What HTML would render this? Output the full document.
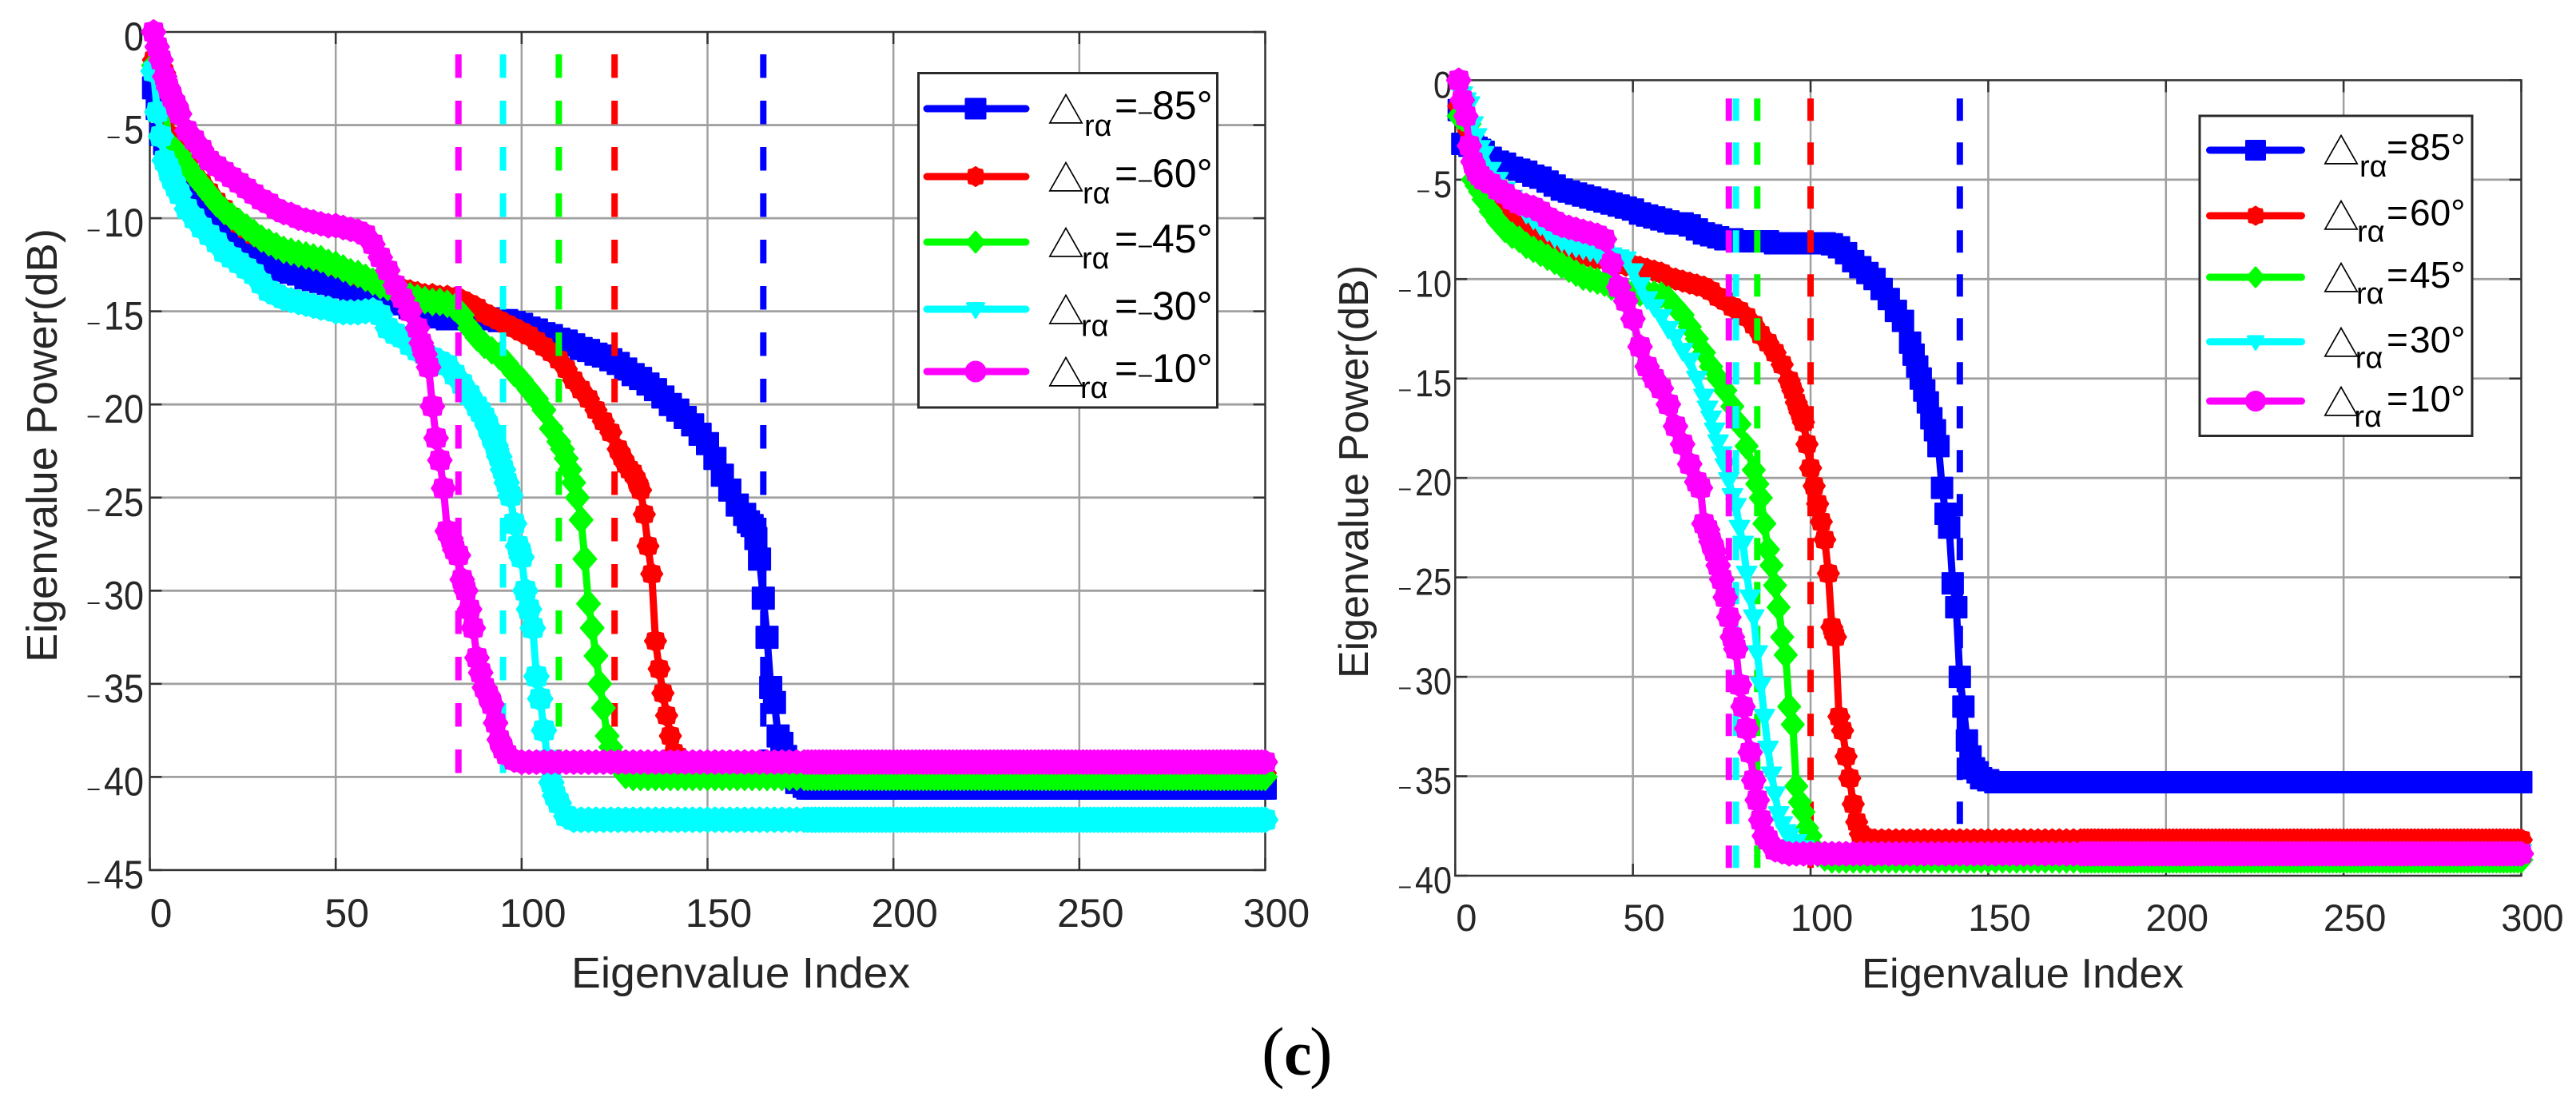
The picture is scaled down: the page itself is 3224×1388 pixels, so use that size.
<!DOCTYPE html>
<html lang="en">
<head>
<meta charset="utf-8">
<title>Eigenvalue Power vs Eigenvalue Index</title>
<style>
html,body{margin:0;padding:0;background:#fff;}
svg{display:block;}
text{font-family:"Liberation Sans",Arial,sans-serif;}
</style>
</head>
<body>
<svg id="figure" xmlns="http://www.w3.org/2000/svg" width="3224" height="1388" viewBox="0 0 3224 1388">
<rect x="0" y="0" width="3224" height="1388" fill="#fff"/>
<g id="panel-left"></g>
<g id="panel-right"></g>
<text x="715" y="1236" font-size="54" fill="#262626" textLength="424" lengthAdjust="spacingAndGlyphs">Eigenvalue Index</text>
<text x="2330" y="1236" font-size="52" fill="#262626" textLength="403" lengthAdjust="spacingAndGlyphs">Eigenvalue Index</text>
<text transform="translate(71,829) rotate(-90)" font-size="54" fill="#262626" textLength="543" lengthAdjust="spacingAndGlyphs">Eigenvalue Power(dB)</text>
<text transform="translate(1712,849) rotate(-90)" font-size="52" fill="#262626" textLength="517" lengthAdjust="spacingAndGlyphs">Eigenvalue Power(dB)</text>
<text y="1345" fill="#000" style="font-family:'Liberation Serif',serif"><tspan x="1579" font-size="86">(</tspan><tspan x="1607" font-size="78" font-weight="bold">c</tspan><tspan x="1639" font-size="86">)</tspan></text>
</svg>
<script>
const eigenIndex=[1,2,3,4,5,6,7,8,
10,12,14,16,18,20,22,24,26,28,
30,32,34,36,38,40,42,44,46,48,
50,52,54,56,58,60,62,64,66,68,
70,72,74,76,78,80,82,84,86,88,
90,92,94,96,98,100,102,104,106,108,
110,112,114,116,118,120,122,124,126,128,
130,132,134,136,138,140,142,144,146,148,
150,152,154,156,158,160,162,164,166,168,
170,172,174,176,
177,178,179,180,181,182,183,184,185,186,187,188,189,190,191,192,193,194,195,196,197,198,199,200,
201,202,203,204,205,206,207,208,209,210,211,212,213,214,215,216,217,218,219,220,221,222,223,224,225,
226,227,228,229,230,231,232,233,234,235,236,237,238,239,240,241,242,243,244,245,246,247,248,249,250,
251,252,253,254,255,256,257,258,259,260,261,262,263,264,265,266,267,268,269,270,271,272,273,274,275,
276,277,278,279,280,281,282,283,284,285,286,287,288,289,290,291,292,293,294,295,296,297,298,299,300];

const xTickLabels=[0,50,100,150,200,250,300];
const yTickLabelsLeft=[0,-5,-10,-15,-20,-25,-30,-35,-40,-45];
const yTickLabelsRight=[0,-5,-10,-15,-20,-25,-30,-35,-40];

const leftLegendLabels=['-85°','-60°','-45°','-30°','-10°'];
const rightLegendLabels=['85°','60°','45°','30°','10°'];

const leftBlue=[-3,-4.1,-5.5,-6,-6.3,-6.6,-6.9,-7.1,
-7.7,-8.2,-8.9,-9.6,-10.2,-10.9,-11.2,-11.5,-11.8,-12.1,
-12.3,-12.5,-12.6,-12.8,-12.9,-13,-13.2,-13.3,-13.4,-13.5,
-13.6,-13.7,-13.8,-13.9,-14,-14.1,-14.2,-14.3,-14.4,-14.6,
-14.8,-14.9,-15.1,-15.2,-15.3,-15.4,-15.4,-15.4,-15.4,-15.4,
-15.4,-15.4,-15.5,-15.5,-15.6,-15.7,-15.9,-16,-16.2,-16.3,
-16.5,-16.6,-16.8,-17,-17.1,-17.3,-17.4,-17.6,-17.8,-18.1,
-18.4,-18.6,-18.9,-19.2,-19.6,-20,-20.3,-20.7,-21.1,-21.6,
-22.1,-22.9,-23.8,-24.6,-25.4,-25.9,-26.5,-28.3,-32.5,-36,
-38.2,-39.6,-40.3,-40.5];
const leftRed=[-1.5,-1.6,-1.8,-2.2,-4.5,-5.6,-6.1,-6.4,
-7,-7.6,-8.1,-8.6,-9.1,-9.5,-9.9,-10.3,-10.6,-10.9,
-11.1,-11.3,-11.5,-11.7,-11.8,-11.9,-12,-12.1,-12.3,-12.4,
-12.6,-12.7,-12.9,-13.1,-13.2,-13.4,-13.5,-13.6,-13.7,-13.8,
-13.9,-14,-14.1,-14.1,-14.2,-14.2,-14.3,-14.4,-14.6,-14.8,
-15.1,-15.3,-15.5,-15.7,-15.9,-16.1,-16.3,-16.6,-16.9,-17.2,
-17.6,-18.1,-18.7,-19.2,-19.7,-20.3,-20.9,-21.5,-22.4,-23.2,
-23.7,-24.6,-27.6,-32.7,-35.5,-37.8,-38.9,-39.6];
const leftGreen=[-1.8,-2,-2.5,-3,-6,-6.2,-6.4,-6.6,
-7.2,-7.7,-8.2,-8.7,-9.2,-9.6,-9.9,-10.2,-10.5,-10.8,
-11.1,-11.3,-11.5,-11.7,-11.8,-11.9,-12,-12.1,-12.2,-12.4,
-12.5,-12.7,-12.9,-13,-13.2,-13.4,-13.6,-13.7,-13.9,-14,
-14.2,-14.3,-14.4,-14.5,-14.5,-14.6,-14.8,-15.2,-15.9,-16.4,
-16.8,-17.1,-17.4,-17.8,-18.3,-18.7,-19.2,-19.7,-20.3,-21.3,
-22,-22.9,-24.2,-26.2,-30.7,-33.5,-36.3,-38.4,-39.4,-39.9];
const leftCyan=[-2.1,-4.3,-5.6,-6.9,-7.3,-7.9,-8.3,-8.7,
-9.5,-10,-10.5,-10.9,-11.3,-11.8,-12.1,-12.4,-12.7,-13,
-13.5,-13.9,-14.1,-14.3,-14.4,-14.5,-14.6,-14.7,-14.8,-14.85,
-15,-15.05,-15.05,-15.05,-15,-14.95,-15.2,-15.9,-16.2,-16.4,
-16.8,-17.1,-17.3,-17.5,-17.7,-17.9,-18.4,-18.9,-19.5,-20.1,
-20.7,-21.7,-22.8,-24.2,-26.4,-28.2,-31,-34.6,-37.5,-40.3,
-41.4,-42.1];
const leftMagenta=[0,-0.8,-1.5,-2.4,-3,-3.5,-3.9,-4.4,
-5.3,-5.8,-6.3,-6.9,-7.2,-7.5,-7.8,-8.1,-8.4,-8.7,
-9,-9.2,-9.5,-9.7,-9.8,-10,-10.1,-10.2,-10.3,-10.4,
-10.4,-10.5,-10.6,-10.7,-10.9,-11.4,-12.1,-12.8,-13.6,-14.3,
-15,-15.9,-17.3,-20.1,-23,-26.8,-27.8,-29.4,-31,-33.6,
-35.2,-36.1,-38,-38.8,-39.1];
const leftPlateaus=[-40.6,-39.8,-40,-42.3,-39.2];
const leftDashIndex=[165,125,110,95,83];

const leftBlueSteepIndex=[161,163,165,167,169,171];
const leftBlueSteepValues=[-26.3,-27.2,-30.4,-35.2,-37.8,-38.9];
const leftRedSteepIndex=[127,129,131,133,135,137,139,141,143];
const leftRedSteepValues=[-22.8,-23.5,-24.1,-25.9,-29.1,-34.2,-36.7,-38.7,-39.4];
const leftGreenSteepIndex=[111,113,115,117,119,121,123,125];
const leftGreenSteepValues=[-22.4,-23.5,-25,-28.3,-32,-35,-37.8,-38.9];
const leftCyanSteepIndex=[89,91,93,95,97,99,101,103,105,107,109];
const leftCyanSteepValues=[-20.4,-21.2,-22.2,-23.5,-24.9,-27.6,-30,-32,-35.8,-39.1,-41];
const leftMagentaSteepIndex=[73,75,77,79,81,83,85,87,89,91,93,95];
const leftMagentaSteepValues=[-16.7,-18,-21.8,-24.5,-27.2,-28.1,-30,-32,-34.4,-35.6,-37.1,-38.5];

const rightBlue=[-1.5,-3.2,-3.2,-3.3,-3.3,-3.4,-3.5,-3.6,
-3.9,-4.1,-4.2,-4.4,-4.5,-4.6,-4.8,-4.9,-5.1,-5.3,
-5.5,-5.6,-5.7,-5.8,-5.9,-6,-6.1,-6.2,-6.3,-6.4,
-6.5,-6.7,-6.8,-6.9,-7,-7.1,-7.2,-7.2,-7.3,-7.5,
-7.7,-7.8,-7.9,-8,-8,-8.1,-8.1,-8.1,-8.1,-8.1,
-8.2,-8.2,-8.2,-8.2,-8.2,-8.2,-8.2,-8.2,-8.25,-8.4,
-8.7,-9.1,-9.4,-9.7,-10,-10.5,-11,-11.6,-12.1,-13.2,
-14.4,-15.6,-17,-18.4,-21.8,-25.3,-30,-33.2,-34.6,-35.1,
-35.2];
const rightRed=[-1.3,-1.6,-2.2,-2.6,-3.6,-4,-4.4,-4.7,
-5.5,-5.9,-6.3,-6.7,-7,-7.3,-7.6,-7.9,-8.2,-8.3,
-8.5,-8.6,-8.7,-8.8,-8.9,-9,-9,-9.1,-9.2,-9.3,
-9.3,-9.4,-9.5,-9.6,-9.7,-9.9,-10,-10.1,-10.2,-10.3,
-10.4,-10.6,-10.9,-11.1,-11.4,-11.6,-11.9,-12.3,-12.8,-13.2,
-13.7,-14.3,-15.1,-16.2,-17.2,-19.5,-21.3,-23.1,-27.5,-32,
-34,-36.4,-37.9,-38.1];
const rightGreen=[-1.8,-1.9,-2,-2.2,-5,-5.3,-5.6,-6,
-6.6,-7.1,-7.5,-7.8,-8,-8.3,-8.5,-8.7,-8.9,-9.1,
-9.3,-9.5,-9.7,-9.9,-10,-10.1,-10.2,-10.4,-10.5,-10.6,
-10.7,-10.7,-10.7,-10.75,-10.8,-11,-11.4,-11.8,-12.4,-13,
-13.7,-14.4,-15,-15.6,-16.4,-17.3,-18.4,-19.6,-21,-23.6,
-25.4,-28,-31.5,-35.5,-36.8,-38,-38.9,-39.1];
const rightCyan=[-0.5,-0.7,-1,-1.2,-2.2,-2.8,-3.4,-3.7,
-4.5,-5,-5.5,-5.9,-6.3,-6.7,-7,-7.3,-7.6,-7.9,
-8.1,-8.3,-8.4,-8.5,-8.6,-8.7,-8.7,-8.8,-8.9,-9,
-9.6,-10.3,-11,-11.4,-11.9,-12.5,-12.9,-13.6,-14.1,-15,
-15.9,-17,-18.2,-19.4,-20.9,-22.5,-24.8,-27,-30.4,-33.6,
-35.9,-37.4,-38,-38.3,-38.6];
const rightMagenta=[0,-1,-1.8,-3.3,-4.1,-4.6,-4.8,-5,
-5.2,-5.5,-5.7,-6,-6.2,-6.3,-6.4,-6.6,-6.9,-7.1,
-7.3,-7.4,-7.5,-7.6,-7.7,-7.8,-8,-9.2,-10.4,-11.1,
-12,-13.4,-14.4,-15,-15.5,-16.3,-17.4,-18.3,-19.3,-20.2,
-22.3,-23.2,-24.4,-26,-28,-30.4,-32.6,-35.2,-37.2,-38.2,
-38.7,-38.8];
const rightPlateaus=[-35.3,-38.2,-39.2,-38.8,-38.9];
const rightDashIndex=[142,100,85,79,77];

const rightBlueSteepIndex=[129,131,133,135,137,139,141,143,145,147];
const rightBlueSteepValues=[-13.8,-15,-16.2,-17.6,-20.5,-22.5,-26.5,-31.5,-34,-34.8];
const rightRedSteepIndex=[95,97,99,101,103,105,107,109,111,113];
const rightRedSteepValues=[-15.6,-16.7,-18.3,-20.4,-22.2,-24.8,-28,-32.7,-35.1,-37.3];
const rightGreenSteepIndex=[85,87,89,91,93,95,97,99,101];
const rightGreenSteepValues=[-20.3,-22.3,-24.4,-26.5,-28.9,-32.4,-36.3,-37.6,-38.6];
const rightCyanSteepIndex=[71,73,75,77,79,81,83,85,87,89,91,93];
const rightCyanSteepValues=[-16.5,-17.6,-18.8,-20.1,-21.4,-23.3,-26,-28.8,-32,-34.9,-36.9,-37.8];
const rightMagentaSteepIndex=[69,71,73,75,77,79,81,83,85,87];
const rightMagentaSteepValues=[-20.5,-22.6,-23.7,-25.1,-27,-28.6,-31.5,-33.8,-36.2,-38];

const SVGNS='http://www.w3.org/2000/svg';
function mk(tag,parent,attrs){
  const el=document.createElementNS(SVGNS,tag);
  for(const k in attrs)el.setAttribute(k,attrs[k]);
  parent.appendChild(el);
  return el;
}
function blobPath(x,y,R){
  let d='';
  for(let k=0;k<16;k++){
    const r=k%2?R*0.84:R;
    const a=Math.PI*2*k/16;
    d+=(k?'L':'M')+(x+r*Math.sin(a)).toFixed(1)+' '+(y-r*Math.cos(a)).toFixed(1);
  }
  return d+'Z';
}
function markerPath(kind,x,y,s){
  const h=s/2;
  if(kind==='square')return `M${x-h} ${y-h}H${x+h}V${y+h}H${x-h}Z`;
  if(kind==='diamond')return `M${x} ${y-h*1.15}L${x+h} ${y}L${x} ${y+h*1.15}L${x-h} ${y}Z`;
  if(kind==='tri')return `M${x-h} ${y-h*0.7}H${x+h}L${x} ${y+h}Z`;
  if(kind==='circle')return `M${x-h} ${y}A${h} ${h} 0 1 1 ${x+h} ${y}A${h} ${h} 0 1 1 ${x-h} ${y}Z`;
  return blobPath(x,y,h);
}

const panelDefs=[
 {id:'left',x0:187.5,x1:1583.5,y0:40,yPerDb:23.31,yMin:-45,yTicks:yTickLabelsLeft,
  series:[leftBlue,leftRed,leftGreen,leftCyan,leftMagenta],plateaus:leftPlateaus,dashes:leftDashIndex,
  steepIndex:[leftBlueSteepIndex,leftRedSteepIndex,leftGreenSteepIndex,leftCyanSteepIndex,leftMagentaSteepIndex],
  steepValues:[leftBlueSteepValues,leftRedSteepValues,leftGreenSteepValues,leftCyanSteepValues,leftMagentaSteepValues],
  names:['blue','red','green','cyan','magenta'],colors:['#0000ff','#ff0000','#00ff00','#00ffff','#ff00ff'],
  kinds:['square','blob','diamond','blob','blob'],sizes:[27,27,29,31,30],
  dashPat:'29.5 28.5',dashTop:-1.2,
  xFont:50,xBase:1160,xOffset:14,yFont:50,ySx:0.9,yRight:180,yBase:23,
  legend:{x:1149.5,y:91.5,w:374,h:418.5,hx0:1156,hx1:1288,mx:1221,rows:[136,221,303,387,465],
   big:[149,234,316,400,478],sub:[170,254.5,336,420.5,498],subX:[1357,1355,1354,1353,1352],
   triX:1311,eqX:1397,dashX:1425,digX:1442,font:50,labels:leftLegendLabels,
   kinds:['square','blob','diamond','tri','circle'],sizes:[24,23,22,21,24]}},
 {id:'right',x0:1821.3,x1:3155.5,y0:100.4,yPerDb:24.89,yMin:-40,yTicks:yTickLabelsRight,
  series:[rightBlue,rightRed,rightGreen,rightCyan,rightMagenta],plateaus:rightPlateaus,dashes:rightDashIndex,
  steepIndex:[rightBlueSteepIndex,rightRedSteepIndex,rightGreenSteepIndex,rightCyanSteepIndex,rightMagentaSteepIndex],
  steepValues:[rightBlueSteepValues,rightRedSteepValues,rightGreenSteepValues,rightCyanSteepValues,rightMagentaSteepValues],
  names:['blue','red','green','cyan','magenta'],colors:['#0000ff','#ff0000','#00ff00','#00ffff','#ff00ff'],
  kinds:['square','blob','diamond','tri','blob'],sizes:[26,27,28,25,30],
  dashPat:'28 27',dashTop:-0.92,
  xFont:47,xBase:1165,xOffset:14,yFont:47,ySx:0.88,yRight:1817,yBase:22,
  legend:{x:2753,y:145,w:341,h:400.5,hx0:2761.5,hx1:2884.5,mx:2823,rows:[188,270,347,427.7,502],
   big:[200,282,360,441,515],sub:[221,302.7,380,460.7,534],subX:[2953,2950,2949,2947.7,2946.4],
   triX:2907,eqX:2989,dashX:0,digX:3016,font:46,labels:rightLegendLabels,
   kinds:['square','blob','diamond','tri','circle'],sizes:[23,22,21,19,23]}}
];

function drawPanel(p){
  const root=document.getElementById('panel-'+p.id);
  const xScale=i=>p.x0+(i/300)*(p.x1-p.x0);
  const yScale=v=>p.y0-v*p.yPerDb;
  const yBottom=yScale(p.yMin);
  const grid=mk('g',root,{});
  
  
  xTickLabels.forEach(t=>{
    const x=xScale(t);
    if(t>0&&t<300){
      const gl=mk('line',grid,{x1:x,x2:x,y1:p.y0,y2:yBottom,stroke:'#a0a0a0','stroke-width':2.5});
      
      
    }
    [[p.y0,p.y0+15],[yBottom,yBottom-15]].forEach(e=>{
      const tk=mk('line',grid,{x1:x,x2:x,y1:e[0],y2:e[1],stroke:'#333','stroke-width':2.5});
      
      
    });
    const tx=mk('text',root,{x:x+p.xOffset,y:p.xBase,'font-size':p.xFont,fill:'#262626','text-anchor':'middle'});
    tx.textContent=String(t);
    
    
  });
  p.yTicks.forEach(t=>{
    const y=yScale(t);
    if(t<0&&t>p.yMin){
      const gl=mk('line',grid,{x1:p.x0,x2:p.x1,y1:y,y2:y,stroke:'#a0a0a0','stroke-width':2.8});
      
      
    }
    [[p.x0,p.x0+15],[p.x1,p.x1-15]].forEach(e=>{
      const tk=mk('line',grid,{x1:e[0],x2:e[1],y1:y,y2:y,stroke:'#333','stroke-width':2.5});
      
      
    });
    const tx=mk('text',root,{transform:`translate(${p.yRight},${y+p.yBase}) scale(${p.ySx},1)`,'font-size':p.yFont,fill:'#262626','text-anchor':'end'});
    
    
    if(t<0){
      const ms=mk('tspan',tx,{'font-size':30,dy:0});
      ms.textContent='–';
      const dg=mk('tspan',tx,{dx:6});
      dg.textContent=String(-t);
    }else{
      tx.textContent=String(t);
    }
  });
  const frame=mk('rect',root,{x:p.x0,y:p.y0,width:p.x1-p.x0,height:yBottom-p.y0,fill:'none',stroke:'#333','stroke-width':2.5});
  
  

  p.series.forEach((vals,si)=>{
    const g=mk('g',root,{});
    
    
    const rows=eigenIndex.map((idx,i)=>[idx,i<vals.length?vals[i]:p.plateaus[si]]);
    p.steepIndex[si].forEach((idx,i)=>rows.push([idx,p.steepValues[si][i]]));
    rows.sort((a,b)=>a[0]-b[0]);
    const pts=rows.map(r=>[xScale(r[0]),yScale(r[1])]);
    const line=mk('polyline',g,{points:pts.map(a=>a[0].toFixed(1)+','+a[1].toFixed(1)).join(' '),fill:'none',stroke:p.colors[si],'stroke-width':9,'stroke-linejoin':'round','stroke-linecap':'round'});
    
    
    pts.forEach(a=>{
      const m=mk('path',g,{d:markerPath(p.kinds[si],+a[0].toFixed(1),+a[1].toFixed(1),p.sizes[si]),fill:p.colors[si],stroke:p.colors[si],'stroke-width':2,'stroke-linejoin':'round'});
      
      
    });
    const dx=xScale(p.dashes[si]);
    const dash=mk('line',g,{x1:dx,x2:dx,y1:yScale(p.dashTop),y2:yScale(-40),stroke:p.colors[si],'stroke-width':8,'stroke-dasharray':p.dashPat});
    
    
  });

  const L=p.legend;
  const lg=mk('g',root,{});
  
  
  const box=mk('rect',lg,{x:L.x,y:L.y,width:L.w,height:L.h,fill:'#fff',stroke:'#2a2a2a','stroke-width':3});
  
  
  L.labels.forEach((lab,i)=>{
    const e=mk('g',lg,{});
    
    
    const ln=mk('line',e,{x1:L.hx0+4,x2:L.hx1-4,y1:L.rows[i],y2:L.rows[i],stroke:p.colors[i],'stroke-width':9,'stroke-linecap':'round'});
    
    
    const mm=mk('path',e,{d:markerPath(L.kinds[i],L.mx,L.rows[i],L.sizes[i]),fill:p.colors[i],stroke:p.colors[i],'stroke-width':3,'stroke-linejoin':'round'});
    
    
    const tri=mk('text',e,{x:L.triX,y:L.big[i]+6,'font-size':46,fill:'#000',style:'font-family:"Liberation Sans","Noto Sans CJK SC",sans-serif'});
    tri.textContent='△';
    
    
    const sb=mk('text',e,{x:L.subX[i],y:L.sub[i],'font-size':38,fill:'#000',style:'font-family:"Liberation Sans","Noto Sans CJK SC",sans-serif'});
    sb.textContent='rα';
    
    
    const tv=mk('text',e,{y:L.big[i],'font-size':L.font,fill:'#000'});
    
    
    const eq=mk('tspan',tv,{x:L.eqX-2});
    eq.textContent='=';
    if(lab[0]==='-'){
      const ms=mk('tspan',tv,{x:L.dashX,'font-size':30});
      ms.textContent='–';
      const dg=mk('tspan',tv,{x:L.digX});
      dg.textContent=lab.slice(1);
    }else{
      const dg=mk('tspan',tv,{x:L.digX});
      dg.textContent=lab;
    }
  });
}
panelDefs.forEach(drawPanel);
</script>
</body>
</html>
